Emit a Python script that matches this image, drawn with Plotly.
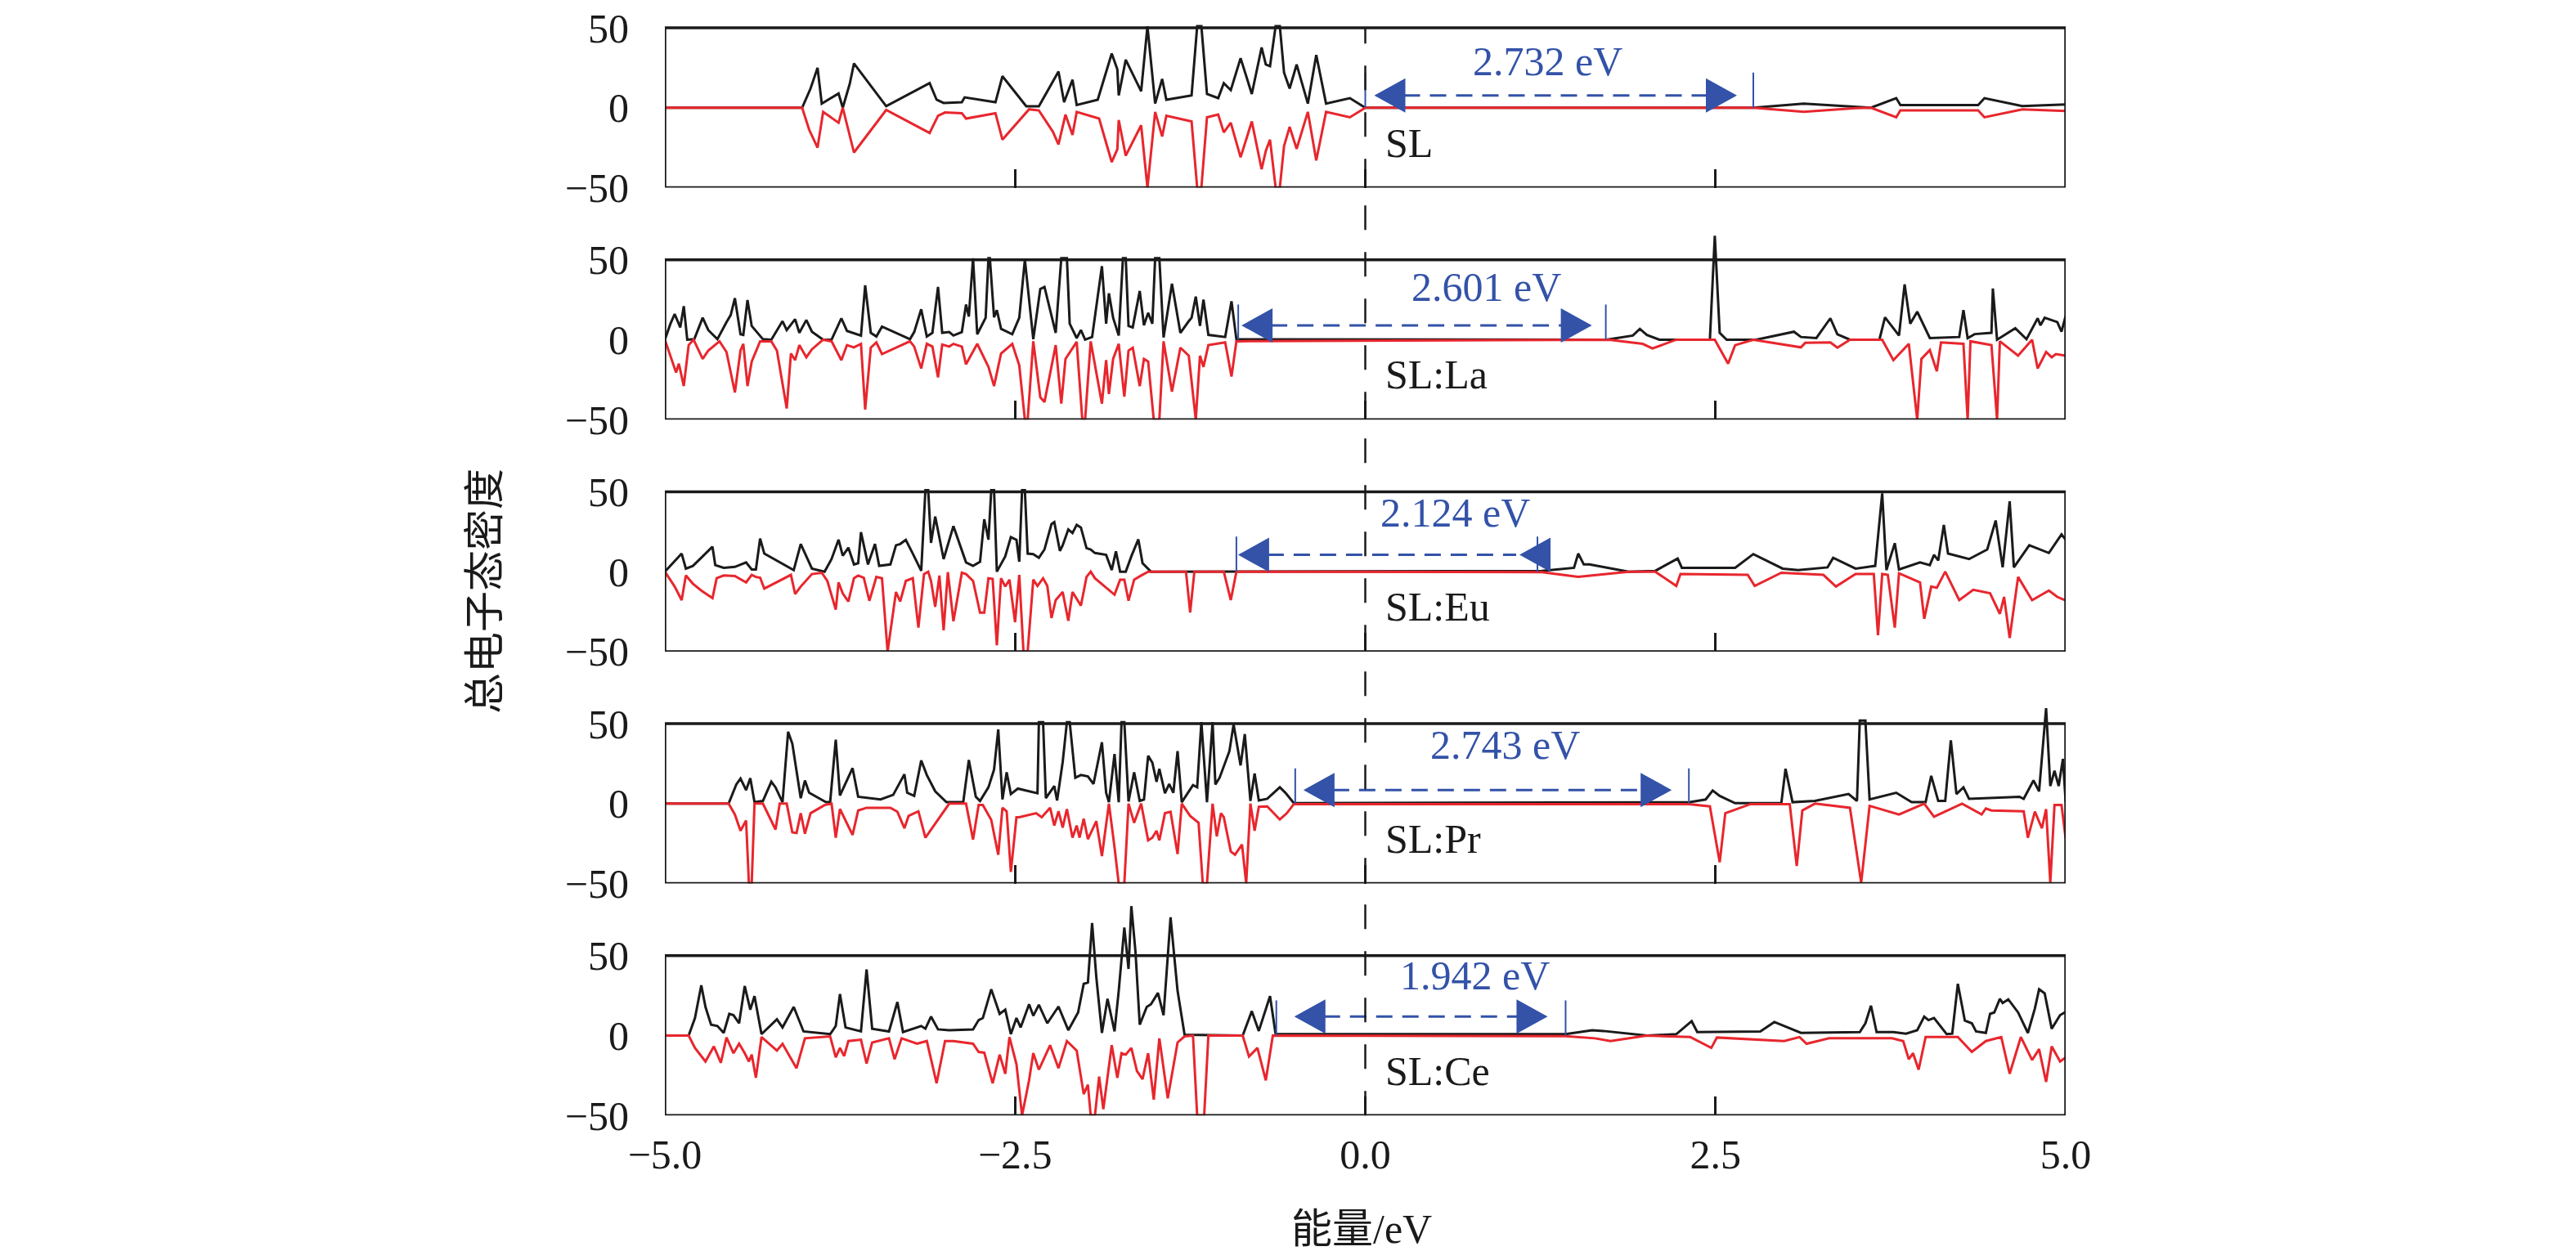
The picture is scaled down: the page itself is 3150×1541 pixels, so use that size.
import plotly.graph_objects as go

# total DOS: spin up (black, > 0) and spin down (red, < 0), energy in eV
sl_up_x = [-5.0, -4.02, -3.96, -3.91, -3.88, -3.76, -3.73, -3.68, -3.65, -3.42,
           -3.11, -3.06, -3.01, -2.88, -2.86, -2.82, -2.64, -2.59, -2.42, -2.33,
           -2.19, -2.15, -2.09, -2.06, -1.91, -1.81, -1.77, -1.76, -1.71, -1.60,
           -1.555, -1.50, -1.45, -1.42, -1.24, -1.20, -1.17, -1.13, -1.05, -1.01,
           -0.96, -0.89, -0.81, -0.74, -0.71, -0.68, -0.64, -0.61, -0.58, -0.54,
           -0.49, -0.41, -0.35, -0.28, -0.11, 0.0, 2.77, 3.13, 3.50, 3.61,
           3.79, 3.82, 4.375, 4.42, 4.69, 5.0]
sl_up_y = [0, 0, 12, 25, 2.6, 8.9, 0, 15, 27.7, 1,
           15.4, 5, 3, 3.4, 6.5, 6, 3.4, 19.7, 0.9, 0.9,
           22.6, 3.4, 17.5, 1.7, 5, 33.9, 24, 7.7, 30, 10.3,
           51, 2.6, 18, 5, 7.7, 51, 51, 8.6, 6, 15.4,
           11, 31, 8.6, 37.7, 27, 26, 51, 51, 22, 12,
           27, 2.6, 33, 2.6, 6, 0, 0, 2.6, 0.5, 0,
           6, 1.7, 1.7, 6, 1, 2]
sl_dn_x = [-5.0, -4.02, -3.97, -3.91, -3.87, -3.76, -3.73, -3.69, -3.65, -3.42,
           -3.11, -3.05, -3.00, -2.88, -2.85, -2.64, -2.59, -2.40, -2.33, -2.23,
           -2.19, -2.14, -2.09, -2.06, -1.90, -1.81, -1.77, -1.76, -1.71, -1.60,
           -1.555, -1.50, -1.45, -1.42, -1.24, -1.20, -1.17, -1.13, -1.05, -1.01,
           -0.96, -0.89, -0.81, -0.74, -0.71, -0.68, -0.64, -0.61, -0.58, -0.54,
           -0.49, -0.41, -0.35, -0.28, -0.11, -0.03, 0.0, 2.77, 3.13, 3.50,
           3.61, 3.79, 3.82, 4.375, 4.42, 4.69, 5.0]
sl_dn_y = [0, 0, -13.7, -25, -2.6, -9.4, 0, -13.7, -28, -1.4,
           -15.8, -5, -3, -3.4, -6.8, -3.4, -20, -1, -1.7, -15,
           -23, -4.3, -17, -2.6, -6.8, -34, -26, -7.7, -30, -11,
           -50, -2.6, -18, -5, -8.6, -50, -50, -6, -4.3, -15.4,
           -9.4, -31, -8.6, -38.5, -27, -20, -50, -50, -24, -12,
           -25.7, -2.6, -33, -2.6, -6, -1.7, 0, 0, -2.6, -0.3,
           0, -6, -1.7, -1.7, -6, -1, -2]

la_up_x = [-5.0, -4.96, -4.93, -4.89, -4.865, -4.84, -4.79, -4.73, -4.69, -4.625,
           -4.56, -4.53, -4.50, -4.46, -4.44, -4.41, -4.38, -4.30, -4.24, -4.20,
           -4.16, -4.13, -4.07, -4.04, -3.99, -3.95, -3.87, -3.81, -3.74, -3.70,
           -3.60, -3.57, -3.53, -3.49, -3.45, -3.25, -3.22, -3.17, -3.13, -3.09,
           -3.05, -3.02, -2.97, -2.94, -2.88, -2.85, -2.83, -2.80, -2.77, -2.71,
           -2.69, -2.68, -2.65, -2.63, -2.60, -2.52, -2.47, -2.43, -2.37, -2.32,
           -2.29, -2.21, -2.17, -2.13, -2.11, -2.06, -2.03, -2.00, -1.95, -1.88,
           -1.85, -1.83, -1.80, -1.76, -1.73, -1.71, -1.69, -1.66, -1.61, -1.58,
           -1.55, -1.52, -1.50, -1.47, -1.44, -1.38, -1.32, -1.26, -1.24, -1.21,
           -1.18, -1.155, -1.12, -1.00, -0.955, -0.92, 1.72, 1.91, 1.96, 2.01,
           2.10, 2.46, 2.495, 2.53, 2.58, 2.79, 3.06, 3.11, 3.22, 3.32,
           3.37, 3.46, 3.67, 3.71, 3.81, 3.85, 3.89, 3.94, 4.03, 4.24,
           4.27, 4.30, 4.35, 4.47, 4.48, 4.51, 4.64, 4.72, 4.80, 4.82,
           4.85, 4.94, 4.97, 5.0]
la_up_y = [0, 10, 16, 7.7, 21, 0, 0.3, 13.7, 6, 0.3,
           11, 15.4, 26, 3.4, 3, 24.8, 8.6, 0.3, 0, 6,
           11.6, 6, 12.8, 4.3, 12.3, 5, 0, 0, 13.4, 5.5,
           2.6, 34, 4.3, 2, 8.2, 0.3, 4.8, 19, 2, 4.3,
           33, 4.3, 4.8, 2.6, 4.8, 22, 14.5, 51, 3.4, 13.7,
           51, 51, 14, 18.5, 6.8, 3.4, 13.7, 50, 0.3, 31.7,
           33, 4.3, 51, 51, 10, 1, 6, 0, 1.7, 46,
           10, 29, 13.7, 2.6, 51, 51, 8.6, 7.7, 30.5, 9,
           16.8, 10, 51, 51, 1.4, 35, 4.3, 11.6, 13.7, 27,
           8.6, 25, 3, 1.7, 24, 0.3, 0, 2.6, 6.8, 3,
           0, 0, 65, 4.3, 0, 0, 5, 1.7, 1, 13.4,
           3.4, 0, 0, 14, 2.6, 34.6, 10, 17.5, 1, 1.7,
           18.5, 1, 3.5, 4.3, 32, 0, 7.2, 0.3, 13.4, 9,
           13.7, 11, 5, 15]
la_dn_x = [-5.0, -4.96, -4.92, -4.90, -4.865, -4.83, -4.795, -4.73, -4.69, -4.61,
           -4.56, -4.50, -4.46, -4.44, -4.41, -4.38, -4.32, -4.24, -4.20, -4.13,
           -4.10, -4.07, -4.04, -3.99, -3.95, -3.87, -3.81, -3.74, -3.70, -3.65,
           -3.60, -3.57, -3.53, -3.49, -3.45, -3.25, -3.22, -3.17, -3.13, -3.09,
           -3.05, -3.02, -2.97, -2.94, -2.88, -2.85, -2.77, -2.69, -2.65, -2.60,
           -2.52, -2.47, -2.43, -2.41, -2.37, -2.32, -2.29, -2.21, -2.17, -2.14,
           -2.06, -2.02, -2.00, -1.96, -1.88, -1.85, -1.83, -1.80, -1.76, -1.72,
           -1.69, -1.66, -1.61, -1.58, -1.55, -1.51, -1.47, -1.44, -1.38, -1.32,
           -1.26, -1.21, -1.18, -1.155, -1.12, -1.00, -0.955, -0.92, 1.74, 1.98,
           2.05, 2.22, 2.495, 2.59, 2.64, 2.77, 3.11, 3.14, 3.32, 3.37,
           3.46, 3.69, 3.77, 3.88, 3.94, 3.97, 4.03, 4.08, 4.11, 4.27,
           4.30, 4.32, 4.47, 4.51, 4.53, 4.66, 4.76, 4.80, 4.86, 4.90,
           4.93, 5.0]
la_dn_y = [0, -10, -20.5, -15, -29, -3.4, 0, -12, -6.8, -1,
           -7.7, -33, -6.8, -2.6, -29, -13.7, -1, -1, -6.8, -43,
           -8.6, -12.8, -3.4, -11, -6, 0, -1, -12.8, -3.4, -4.8,
           -2.6, -43.7, -5, -1.7, -9, -1, -4.3, -18, -2.6, -4.3,
           -23.6, -3, -4.3, -2.6, -4.3, -15.4, -2.6, -17, -29, -8.6,
           -2.6, -16, -50, -50, -1, -36, -39, -3.4, -40, -12,
           -1.4, -50, -50, -1, -40, -12.8, -34, -12, -2.6, -35.6,
           -6.8, -5, -29, -12, -13.7, -50, -50, -1, -32.5, -5,
           -10, -50, -10, -17, -3.4, -1.7, -23, -1, 0, -2.6,
           -5.5, 0, 0, -15, -3.4, 0, -4.8, -2, -1.7, -5,
           0, 0, -12.8, -2.6, -50, -12, -6.5, -19.7, -1.7, -2.6,
           -50, -1, -3.4, -50, -1, -10, 0, -18, -7.7, -11,
           -9, -10]

eu_up_x = [-5.0, -4.88, -4.85, -4.80, -4.74, -4.66, -4.64, -4.58, -4.50, -4.42,
           -4.38, -4.35, -4.32, -4.29, -4.08, -4.03, -3.95, -3.86, -3.81, -3.76,
           -3.73, -3.69, -3.65, -3.62, -3.60, -3.55, -3.50, -3.47, -3.39, -3.35,
           -3.32, -3.28, -3.23, -3.17, -3.14, -3.12, -3.10, -3.07, -3.01, -2.94,
           -2.85, -2.80, -2.75, -2.72, -2.69, -2.67, -2.65, -2.63, -2.57, -2.53,
           -2.49, -2.47, -2.45, -2.43, -2.41, -2.37, -2.33, -2.29, -2.24, -2.22,
           -2.18, -2.16, -2.12, -2.09, -2.06, -2.03, -1.99, -1.96, -1.93, -1.85,
           -1.81, -1.78, -1.75, -1.71, -1.67, -1.62, -1.59, -1.53, 1.26, 1.49,
           1.52, 1.56, 1.60, 1.88, 2.07, 2.23, 2.26, 2.64, 2.77, 2.98,
           3.09, 3.30, 3.34, 3.50, 3.64, 3.69, 3.72, 3.78, 3.81, 3.96,
           4.03, 4.06, 4.09, 4.13, 4.16, 4.31, 4.44, 4.50, 4.55, 4.60,
           4.63, 4.74, 4.88, 4.97, 5.0]
eu_up_y = [0, 11.3, 1.9, 3.6, 8.7, 15.6, 4.1, 2.4, 3, 5.8,
           1.4, 1.4, 20.7, 11.3, 1, 17.3, 1.9, 0, 7.9, 20,
           10, 15, 4.5, 5.3, 24.7, 4.5, 17.3, 3.6, 4.5, 16.5,
           17.3, 19.9, 11.3, 0.5, 51, 51, 18, 34.5, 7.9, 28.5,
           5.8, 3.6, 6.2, 32.8, 20, 51, 51, 0, 9.6, 21.6,
           19.9, 6.2, 51, 51, 11.3, 11, 8.7, 13.9, 29.8, 31,
           13, 16.5, 26.4, 24.2, 29.3, 27.6, 14.7, 13.9, 11.7, 10.5,
           1, 12.7, 0, 0, 9.6, 20.2, 5.3, 0, 0.5, 2.4,
           11.3, 4.5, 4.5, 0, 0.5, 8.2, 2.4, 2.4, 11, 1.9,
           1, 2.7, 8.7, 1.9, 3.6, 49, 1, 17.8, 1.4, 5.8,
           4.1, 10.5, 7, 29.3, 11.3, 7.9, 13.9, 32, 2.7, 44,
           2.7, 16.5, 11.7, 23.3, 20]
eu_dn_x = [-5.0, -4.93, -4.88, -4.85, -4.80, -4.74, -4.66, -4.63, -4.58, -4.50,
           -4.42, -4.38, -4.35, -4.32, -4.29, -4.10, -4.07, -4.03, -3.95, -3.88,
           -3.84, -3.78, -3.76, -3.73, -3.69, -3.65, -3.62, -3.58, -3.54, -3.49,
           -3.45, -3.41, -3.35, -3.32, -3.28, -3.23, -3.19, -3.15, -3.12, -3.10,
           -3.07, -3.04, -3.01, -2.98, -2.94, -2.88, -2.85, -2.80, -2.75, -2.72,
           -2.69, -2.66, -2.63, -2.60, -2.57, -2.54, -2.50, -2.47, -2.44, -2.41,
           -2.37, -2.34, -2.30, -2.27, -2.24, -2.21, -2.16, -2.12, -2.09, -2.03,
           -1.99, -1.96, -1.93, -1.85, -1.79, -1.75, -1.72, -1.69, -1.65, -1.60,
           -1.55, -1.28, -1.25, -1.22, -1.01, -0.96, -0.92, 1.26, 1.52, 1.88,
           2.07, 2.22, 2.25, 2.73, 2.78, 2.97, 3.27, 3.36, 3.50, 3.63,
           3.66, 3.69, 3.73, 3.78, 3.81, 3.96, 3.99, 4.04, 4.08, 4.14,
           4.24, 4.34, 4.46, 4.53, 4.56, 4.60, 4.66, 4.76, 4.88, 4.94,
           5.0]
eu_dn_y = [0, -9.3, -17.8, -2.4, -7.5, -11.8, -16.5, -4.1, -2.4, -2.7,
           -6.7, -2, -3.3, -3.8, -10.6, -2, -14, -9.3, -1.5, -0.7,
           -5.8, -23.8, -6.7, -13.6, -18.7, -4.1, -2.4, -3.8, -18.2, -3.3,
           -4.1, -50, -12.7, -18.7, -5.8, -4.1, -35, -1.5, 0, -5.8,
           -22, -2.4, -36.7, -0.3, -31, -0.7, -1.5, -5.8, -25.6, -25.6,
           -4.1, -4.5, -46, -4.1, -9.3, -5, -31.6, -2, -50, -50,
           -5, -8.9, -4.1, -8.9, -29, -17.8, -12.7, -30.7, -12.7, -21.3,
           -3.3, 0, -4.1, -10, -14.4, -5, -5, -18.2, -5, -2.4,
           0, 0, -25.6, 0, 0, -17.8, 0, -0.3, -3.3, 0,
           0, -8.9, -1.5, -2, -8.9, -0.7, -2, -9.3, -1.5, -1.5,
           -39.8, -1.5, -2, -35, -1, -6.7, -29.5, -9.3, -10.1, 0,
           -17.8, -11.3, -13.5, -26.4, -15.8, -41.5, -3.3, -17.8, -11.8, -15.8,
           -18]

pr_up_x = [-5.0, -4.545, -4.49, -4.46, -4.42, -4.39, -4.36, -4.30, -4.24, -4.21,
           -4.16, -4.12, -4.09, -4.05, -4.03, -4.00, -3.97, -3.85, -3.82, -3.78,
           -3.75, -3.66, -3.62, -3.46, -3.37, -3.29, -3.27, -3.22, -3.17, -3.13,
           -3.07, -2.99, -2.87, -2.83, -2.78, -2.75, -2.69, -2.65, -2.62, -2.59,
           -2.56, -2.53, -2.48, -2.34, -2.33, -2.30, -2.28, -2.22, -2.20, -2.16,
           -2.13, -2.11, -2.07, -2.03, -1.98, -1.94, -1.88, -1.85, -1.83, -1.79,
           -1.76, -1.74, -1.72, -1.69, -1.65, -1.61, -1.58, -1.55, -1.52, -1.49,
           -1.47, -1.43, -1.40, -1.37, -1.34, -1.31, -1.23, -1.20, -1.17, -1.13,
           -1.09, -1.07, -1.04, -0.97, -0.94, -0.89, -0.86, -0.82, -0.79, -0.76,
           -0.70, -0.61, -0.57, -0.51, 2.31, 2.43, 2.48, 2.53, 2.64, 2.97,
           3.00, 3.05, 3.21, 3.45, 3.51, 3.53, 3.57, 3.60, 3.79, 3.90,
           4.00, 4.04, 4.09, 4.14, 4.18, 4.22, 4.27, 4.31, 4.67, 4.70,
           4.77, 4.81, 4.86, 4.89, 4.92, 4.95, 4.98, 5.0]
pr_up_y = [0, 0, 12, 15.7, 8.5, 15.9, 0.9, 1.7, 13.7, 10.2,
           0.9, 45, 37.5, 15.4, 3.4, 14.5, 6.8, 0.9, 0.9, 40,
           5.1, 22.2, 4.3, 2.6, 5.5, 18.4, 6.8, 4.8, 27, 17.9,
           7.7, 0.9, 0.9, 27.3, 4.3, 1.7, 10.2, 21.3, 46.4, 2.6,
           19.6, 6, 9.4, 6.5, 51, 51, 3.4, 11, 2, 26,
           51, 51, 16.2, 17.9, 17, 12.3, 38.4, 6.8, 0.9, 31,
           0.9, 51, 51, 1.4, 19.6, 1.7, 2.6, 29.9, 25.6, 13.7,
           21.8, 6.5, 12.3, 6.8, 32.8, 0.9, 11.6, 10.2, 51, 0.9,
           51, 12, 16.2, 32.8, 49.5, 23.9, 43.5, 1.7, 18.8, 2,
           3, 10.2, 6.8, 0.3, 0.8, 2.6, 8.2, 4.8, 0.3, 0.3,
           21.8, 0.9, 1.7, 6, 1.7, 52, 52, 2.6, 6.8, 0.9,
           0.9, 17.4, 1.7, 1.7, 39.6, 6, 10.2, 3, 4.3, 3,
           14.5, 7.7, 59.7, 11, 20.5, 11, 28, 1]
pr_dn_x = [-5.0, -4.545, -4.50, -4.46, -4.42, -4.40, -4.38, -4.36, -4.30, -4.21,
           -4.18, -4.13, -4.09, -4.06, -4.03, -4.00, -3.96, -3.86, -3.81, -3.78,
           -3.75, -3.66, -3.62, -3.56, -3.39, -3.34, -3.29, -3.26, -3.22, -3.19,
           -3.14, -3.08, -2.97, -2.85, -2.80, -2.76, -2.73, -2.67, -2.62, -2.59,
           -2.56, -2.53, -2.49, -2.47, -2.35, -2.31, -2.25, -2.22, -2.19, -2.16,
           -2.13, -2.09, -2.06, -2.04, -2.01, -1.98, -1.92, -1.88, -1.83, -1.79,
           -1.76, -1.72, -1.69, -1.65, -1.60, -1.55, -1.52, -1.49, -1.47, -1.43,
           -1.39, -1.34, -1.31, -1.25, -1.19, -1.16, -1.13, -1.09, -1.06, -1.03,
           -1.01, -0.96, -0.93, -0.88, -0.85, -0.82, -0.79, -0.76, -0.70, -0.61,
           -0.56, -0.51, 2.31, 2.46, 2.53, 2.57, 2.75, 3.03, 3.08, 3.12,
           3.21, 3.46, 3.54, 3.60, 3.81, 3.99, 4.06, 4.26, 4.40, 4.43,
           4.47, 4.70, 4.73, 4.78, 4.83, 4.86, 4.89, 4.92, 4.97, 5.0]
pr_dn_y = [0, 0, -6.8, -17, -10.6, -50, -50, 0, 0, -16.2,
           0, 0, -18, -18.4, -6, -18.8, -6, -0.9, 0, -21.3,
           -3.4, -19.6, -4.3, -2.6, -2.6, -5.1, -15.4, -7.7, -6, -4.8,
           -21.3, -13.7, 0, 0, -22.5, -0.9, -0.9, -10.2, -32, -2.6,
           -4.8, -42.7, -8.5, -8.5, -6, -8.5, -2.6, -13.7, -4.8, -15,
           -3.4, -21.3, -13.7, -21.3, -9.4, -22.2, -11, -32.8, 0, -27.3,
           -50, -50, 0, -12, 0, -23, -21.3, -17, -23, -6,
           -5.1, -31.6, 0, -7.7, -12, -50, -50, 0, -20.5, -6,
           -8.5, -29.9, -32, -25.6, -50, 0, -17, -2, -1.7, -9.9,
           -6, -0.3, -0.3, -1.7, -36.7, -6, -0.3, -0.3, -39, -4.3,
           0, -2.6, -49.5, -1.4, -6.8, 0, -8.2, 0, -6.8, -3,
           -4.3, -4.8, -21.3, -5, -15.4, -3.4, -49.5, -0.9, -0.9, -22]

ce_up_x = [-5.0, -4.83, -4.785, -4.74, -4.71, -4.67, -4.625, -4.58, -4.54, -4.51,
           -4.47, -4.43, -4.39, -4.36, -4.31, -4.20, -4.16, -4.08, -4.01, -3.82,
           -3.78, -3.75, -3.71, -3.60, -3.56, -3.52, -3.40, -3.34, -3.30, -3.17,
           -3.14, -3.10, -3.05, -2.97, -2.80, -2.76, -2.73, -2.67, -2.61, -2.57,
           -2.53, -2.49, -2.46, -2.40, -2.37, -2.33, -2.27, -2.19, -2.12, -2.05,
           -2.01, -1.98, -1.95, -1.92, -1.88, -1.84, -1.79, -1.76, -1.72, -1.69,
           -1.67, -1.64, -1.61, -1.56, -1.53, -1.48, -1.44, -1.39, -1.34, -1.29,
           -0.875, -0.81, -0.76, -0.68, -0.64, 1.43, 1.62, 1.70, 2.01, 2.22,
           2.33, 2.37, 2.82, 2.92, 3.11, 3.53, 3.57, 3.61, 3.65, 3.77,
           3.86, 3.94, 3.99, 4.02, 4.06, 4.15, 4.19, 4.23, 4.28, 4.33,
           4.36, 4.43, 4.46, 4.49, 4.53, 4.55, 4.59, 4.66, 4.73, 4.78,
           4.81, 4.85, 4.90, 4.96, 5.0]
ce_up_y = [0, 0, 11, 31.5, 17.9, 6.8, 6, 1.7, 13.6, 12.8,
           7.7, 31, 16.2, 24.7, 0.9, 10.2, 5.1, 17.9, 2.6, 0.9,
           6, 26, 5.1, 2.6, 41.4, 4.3, 2.6, 21, 2.2, 6,
           4.3, 11.9, 3.9, 3.4, 3.9, 9.7, 11, 29, 13.6, 16.2,
           0.9, 11, 5.1, 19.6, 12.4, 19.3, 7.7, 18.2, 3.4, 14.5,
           32.4, 33.2, 70.4, 36.6, 1.7, 23, 2.6, 28, 67.6, 41.7,
           81, 52, 6.8, 17.9, 19.6, 26.7, 12.8, 74, 28, 0.5,
           0, 15.3, 2.9, 24.7, 0.9, 0.9, 3.4, 2.9, 0, 0.9,
           9, 2.2, 2.6, 8.5, 1.7, 2.2, 7.7, 18.7, 2.2, 2.2,
           1.2, 3.4, 11.9, 9.7, 11, 0.9, 1.2, 32.4, 9.4, 7.7,
           2.6, 1.7, 13.6, 14.5, 23, 20.4, 22.7, 14.5, 1.7, 17,
           29, 26.4, 4.3, 12.8, 14.8]
ce_dn_x = [-5.0, -4.83, -4.785, -4.71, -4.65, -4.60, -4.56, -4.51, -4.47, -4.43,
           -4.40, -4.38, -4.35, -4.31, -4.20, -4.16, -4.06, -4.00, -3.82, -3.78,
           -3.75, -3.72, -3.69, -3.60, -3.56, -3.52, -3.40, -3.36, -3.31, -3.20,
           -3.13, -3.06, -3.00, -2.94, -2.80, -2.76, -2.72, -2.66, -2.61, -2.57,
           -2.54, -2.49, -2.45, -2.40, -2.37, -2.33, -2.25, -2.19, -2.13, -2.06,
           -2.01, -1.98, -1.96, -1.93, -1.90, -1.87, -1.81, -1.77, -1.74, -1.71,
           -1.67, -1.63, -1.59, -1.55, -1.51, -1.47, -1.41, -1.34, -1.29, -1.23,
           -1.20, -1.15, -1.12, -0.875, -0.83, -0.77, -0.71, -0.66, 1.43, 1.64,
           1.75, 2.01, 2.32, 2.47, 2.51, 2.99, 3.10, 3.15, 3.31, 3.76,
           3.84, 3.88, 3.91, 3.95, 4.00, 4.23, 4.33, 4.43, 4.54, 4.60,
           4.68, 4.76, 4.81, 4.86, 4.90, 4.96, 5.0]
ce_dn_y = [0, 0, -7.7, -16.2, -6.8, -17, -1.2, -11, -5.1, -11,
           -16.2, -11.9, -26.4, -0.9, -9.4, -5.1, -20.4, -1.7, -0.5, -13.6,
           -7.7, -12.8, -3.4, -2.6, -17.5, -4.3, -1.7, -14.8, -1.7, -5.1,
           -3.4, -29.8, -3.4, -3.4, -5.1, -10.2, -10.7, -29.8, -11.9, -23.9,
           -0.9, -17.9, -50, -28, -11, -21.3, -6, -20.4, -3.4, -9.4,
           -36.6, -30.7, -50, -50, -25.6, -46, -6, -26.4, -11, -11.9,
           -7.7, -22.1, -27.3, -11, -40, -1.7, -39.2, -4.3, -0.5, 0,
           -50, -50, 0, 0, -13.1, -7.7, -28, 0, -0.3, -1.7,
           -3.4, 0, -0.9, -7.7, -1.2, -3.4, -0.9, -5.1, -1.7, -1.7,
           -3.4, -14.8, -11, -21.3, -0.9, -0.9, -10.2, -3.4, -0.9, -23.9,
           -0.9, -15.3, -8.5, -29, -6.8, -16.2, -13.6]

panel_names = ["SL", "SL:La", "SL:Eu", "SL:Pr", "SL:Ce"]
vbm = [0.0, -0.907, -0.92, -0.50, -0.635]      # valence band top (eV)
cbm = [2.77, 1.717, 1.229, 2.31, 1.43]         # conduction band bottom (eV)
gap_labels = ["2.732 eV", "2.601 eV", "2.124 eV", "2.743 eV", "1.942 eV"]
x_ticks = [-5.0, -2.5, 0.0, 2.5, 5.0]
y_ticks = [-50, 0, 50]

series = [
    (sl_up_x, sl_up_y, sl_dn_x, sl_dn_y),
    (la_up_x, la_up_y, la_dn_x, la_dn_y),
    (eu_up_x, eu_up_y, eu_dn_x, eu_dn_y),
    (pr_up_x, pr_up_y, pr_dn_x, pr_dn_y),
    (ce_up_x, ce_up_y, ce_dn_x, ce_dn_y),
]

# layout (pixels of the 3150 x 1541 page)
W, H = 3150, 1541
LEFT, RIGHT = 805, 2518
TOP0, PITCH, FH = 26, 283.7, 195.5
PX_EV = (RIGHT - LEFT) / 10.0
PX_UNIT = FH / 100.0

BLACK = "#1a1a1a"
RED = "#e8262d"
BLUE = "#3352a8"
FONT = "Liberation Serif, Noto Sans CJK SC"

y_top = [60, 90, 90, 90, 90]
arrow_y = [7.7, 8.9, 10.5, 8.5, 11.9]
text_x = [1.30, 0.865, 0.645, 1.0, 0.785]
text_y = [29, 33, 37, 36.5, 37.5]
label_y = -22
# arrow heads: gap (px) between band edge line and head tip; head size in px
left_tip = [11, 4, 2, 10, 22]
right_tip = [20, 17, 22, 21, 22]
right_points_left = [False, False, True, False, False]
HEAD_W, HEAD_H = 38, 42


def px(p):
    return p / PX_EV


fig = go.Figure()
shapes = []
annotations = []
layout_axes = {}

for i in range(5):
    n = "" if i == 0 else str(i + 1)
    xa, ya = "x" + n, "y" + n
    ux, uy, dx, dy = series[i]
    assert len(ux) == len(uy) and len(dx) == len(dy), panel_names[i]

    fig.add_trace(go.Scatter(x=ux, y=uy, mode="lines", line=dict(color=BLACK, width=3),
                             xaxis=xa, yaxis=ya, showlegend=False, hoverinfo="skip"))
    fig.add_trace(go.Scatter(x=dx, y=dy, mode="lines", line=dict(color=RED, width=3),
                             xaxis=xa, yaxis=ya, showlegend=False, hoverinfo="skip"))

    # band gap marker: edge lines, dashed double arrow
    v, c = vbm[i], cbm[i]
    fig.add_trace(go.Scatter(x=[v, v, None, c, c], y=[0, 22, None, 0, 22], mode="lines",
                             line=dict(color=BLUE, width=2), xaxis=xa, yaxis=ya,
                             showlegend=False, hoverinfo="skip"))
    fig.add_trace(go.Scatter(x=[v + px(left_tip[i] + HEAD_W - 2), c - px(right_tip[i] + 4)],
                             y=[arrow_y[i]] * 2, mode="lines",
                             line=dict(color=BLUE, width=3, dash="20px,12px"),
                             xaxis=xa, yaxis=ya, showlegend=False, hoverinfo="skip"))

    hh = HEAD_H / 2
    lt = left_tip[i]
    shapes.append(dict(type="path", xref=xa, yref=ya, xsizemode="pixel", ysizemode="pixel",
                       xanchor=v, yanchor=arrow_y[i],
                       path=f"M {lt},0 L {lt + HEAD_W},{hh} L {lt + HEAD_W},{-hh} Z",
                       fillcolor=BLUE, line=dict(width=0), layer="above"))
    rt = right_tip[i]
    if right_points_left[i]:
        path = f"M {-rt},0 L {-rt + HEAD_W},{hh} L {-rt + HEAD_W},{-hh} Z"
    else:
        path = f"M {-rt},0 L {-rt - HEAD_W},{hh} L {-rt - HEAD_W},{-hh} Z"
    shapes.append(dict(type="path", xref=xa, yref=ya, xsizemode="pixel", ysizemode="pixel",
                       xanchor=c, yanchor=arrow_y[i], path=path,
                       fillcolor=BLUE, line=dict(width=0), layer="above"))

    top = TOP0 + i * PITCH
    bot = top + FH
    dom_y = [1 - bot / H, 1 - (top - (y_top[i] - 50) * PX_UNIT) / H]

    layout_axes["xaxis" + n] = dict(
        domain=[LEFT / W, RIGHT / W], range=[-5, 5], anchor=ya, automargin=False,
        tickvals=x_ticks, tickformat=".1f", ticks="inside", ticklen=23, tickwidth=3,
        tickcolor=BLACK, showticklabels=(i == 4), showgrid=False, zeroline=False,
        showline=False, ticklabelstandoff=14, ticklabeloverflow="allow",
        tickfont=dict(size=50, color=BLACK))
    layout_axes["yaxis" + n] = dict(
        domain=dom_y, range=[-50, y_top[i]], anchor=xa, automargin=False,
        tickvals=y_ticks, ticks="", showgrid=False, zeroline=False, showline=False,
        ticklabelstandoff=43, ticklabeloverflow="allow",
        tickfont=dict(size=50, color=BLACK))

    shapes.append(dict(type="rect", xref=xa, yref=ya, x0=-5, x1=5, y0=-50, y1=50,
                       line=dict(color=BLACK, width=3.5), layer="above"))
    annotations.append(dict(xref=xa, yref=ya, x=0.13, y=label_y, text=panel_names[i],
                            showarrow=False, xanchor="left", yanchor="middle",
                            font=dict(size=50, color=BLACK)))
    annotations.append(dict(xref=xa, yref=ya, x=text_x[i], y=text_y[i], text=gap_labels[i],
                            showarrow=False, xanchor="center", yanchor="middle",
                            font=dict(size=50, color=BLUE)))

# Fermi level line through all panels
shapes.append(dict(type="line", xref="x", yref="paper", x0=0, x1=0,
                   y0=1 - (TOP0 + 4 * PITCH + FH) / H, y1=1 - TOP0 / H,
                   line=dict(color=BLACK, width=2.5, dash="30px,27px"), layer="above"))

annotations.append(dict(xref="paper", yref="paper", x=1657 / W, y=1 - 1495 / H,
                        text="能量/eV", showarrow=False, xanchor="center", yanchor="middle",
                        font=dict(size=50, color=BLACK)))
annotations.append(dict(xref="paper", yref="paper", x=585 / W, y=1 - 715 / H,
                        text="总电子态密度", showarrow=False, textangle=-90,
                        xanchor="center", yanchor="middle", font=dict(size=50, color=BLACK)))

fig.update_layout(
    width=W, height=H, autosize=False,
    margin=dict(l=0, r=0, t=0, b=0, autoexpand=False),
    paper_bgcolor="white", plot_bgcolor="white",
    font=dict(family=FONT, size=50, color=BLACK),
    shapes=shapes, annotations=annotations, showlegend=False,
    **layout_axes,
)

fig.write_html("out.html")
